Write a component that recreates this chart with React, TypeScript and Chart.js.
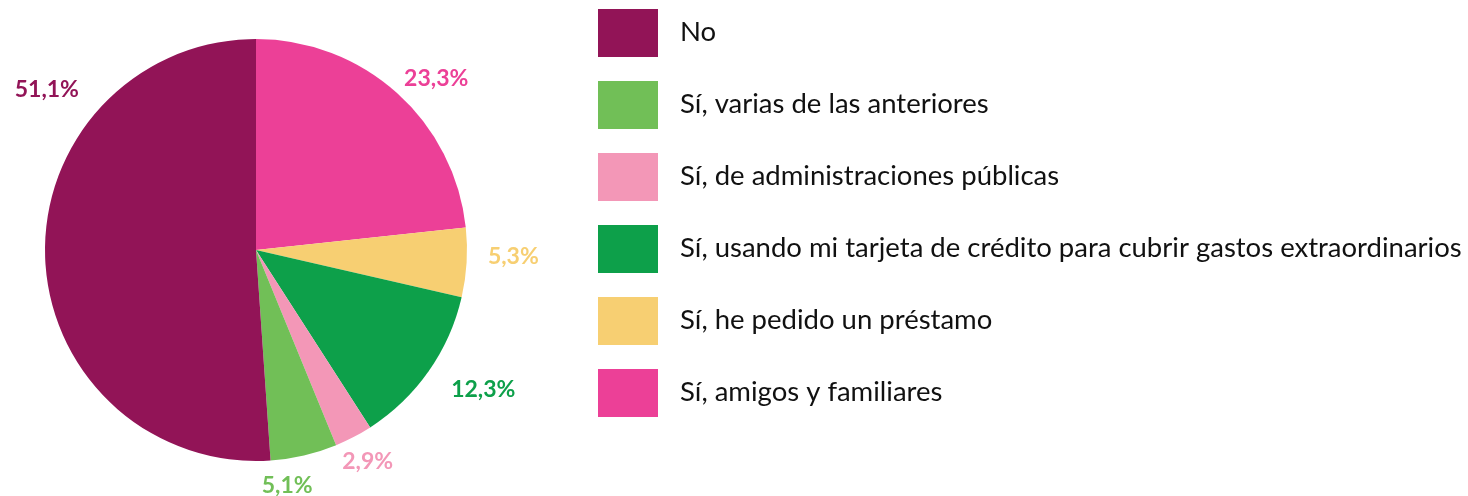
import React, { useEffect, useRef } from "react";
import { Chart, registerables } from "chart.js";

Chart.register(...registerables);

// Data (clockwise from 12 o'clock)
const categories = [
  "Sí, amigos y familiares",
  "Sí, he pedido un préstamo",
  "Sí, usando mi tarjeta de crédito para cubrir gastos extraordinarios",
  "Sí, de administraciones públicas",
  "Sí, varias de las anteriores",
  "No",
];
const values = [23.3, 5.3, 12.3, 2.9, 5.1, 51.1];
const colors = ["#EC4097", "#F7CF72", "#0DA04A", "#F397B7", "#71BF57", "#921457"];

// Label placement tweaks: angle offset (deg) from slice middle, and gap from the rim
const labelAngleOffset = [1.7, -1.8, -1.1, 1.4, 6.1, 42];
const labelGap = [18, 21, 31, 17, 18, 30];

const FONT = "Lato, 'Noto Sans', sans-serif";

const fmt = (v: number) => v.toFixed(1).replace(".", ",") + "%";

const pieLabelsPlugin = {
  id: "pieLabels",
  afterDatasetsDraw(chart: any) {
    const ctx = chart.ctx;
    const meta = chart.getDatasetMeta(0);
    ctx.save();
    ctx.font = `bold 23px ${FONT}`;
    ctx.textAlign = "center";
    ctx.textBaseline = "middle";
    meta.data.forEach((arc: any, i: number) => {
      const { x, y, startAngle, endAngle, outerRadius } = arc.getProps(
        ["x", "y", "startAngle", "endAngle", "outerRadius"],
        true
      );
      const mid = (startAngle + endAngle) / 2 + (labelAngleOffset[i] * Math.PI) / 180;
      const text = fmt(values[i]);
      const w = ctx.measureText(text).width;
      const h = 16;
      const r = outerRadius + labelGap[i];
      const ax = x + r * Math.cos(mid);
      const ay = y + r * Math.sin(mid);
      const cx = ax + (w / 2) * Math.cos(mid);
      const cy = ay + (h / 2) * Math.sin(mid);
      ctx.fillStyle = colors[i];
      ctx.fillText(text, cx, cy);
    });
    ctx.restore();
  },
};

const legendPlugin = {
  id: "customLegend",
  afterDraw(chart: any) {
    const ctx = chart.ctx;
    ctx.save();
    ctx.font = `27.5px ${FONT}`;
    ctx.textBaseline = "middle";
    ctx.textAlign = "left";
    const n = categories.length;
    for (let k = 0; k < n; k++) {
      const i = n - 1 - k;
      const y0 = 9 + k * 72;
      ctx.fillStyle = colors[i];
      ctx.fillRect(598, y0, 60, 48);
      ctx.fillStyle = "#111111";
      ctx.fillText(categories[i], 680, y0 + 23);
    }
    ctx.restore();
  },
};

export default function App() {
  const ref = useRef<HTMLCanvasElement | null>(null);
  useEffect(() => {
    document.body.style.margin = "0";
    const chart = new Chart(ref.current as HTMLCanvasElement, {
      type: "pie",
      data: {
        labels: categories,
        datasets: [
          {
            data: values,
            backgroundColor: colors,
            borderWidth: 0,
          },
        ],
      },
      options: {
        animation: false,
        responsive: false,
        layout: { padding: { left: 45, top: 39, right: 1001, bottom: 35 } },
        plugins: {
          legend: { display: false },
          tooltip: { enabled: false },
        },
      },
      plugins: [pieLabelsPlugin, legendPlugin],
    });
    return () => chart.destroy();
  }, []);
  return (
    <div style={{ position: "absolute", left: 0, top: 0, width: 1468, height: 496, background: "#fff" }}>
      <canvas ref={ref} width={1468} height={496} />
    </div>
  );
}
